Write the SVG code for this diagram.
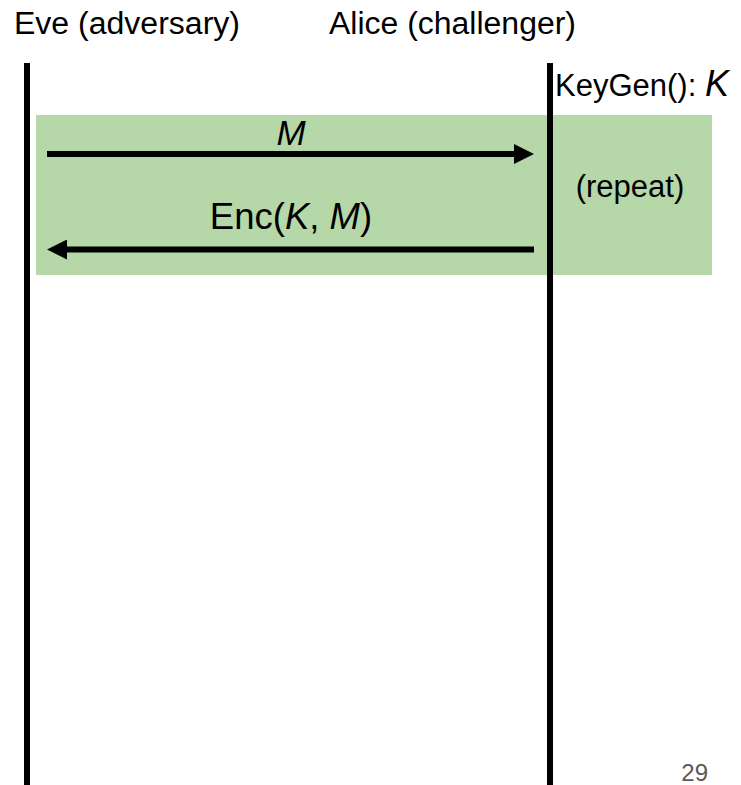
<svg xmlns="http://www.w3.org/2000/svg" width="741" height="785" viewBox="0 0 741 785">
  <style>
    text { font-family: "Liberation Sans", Arial, sans-serif; fill: #000; }
    .lifeline { stroke: #000; stroke-width: 6; }
    .msg { stroke: #000; stroke-width: 6; fill: none; }
    .it { font-style: italic; }
  </style>
  <defs>
    <marker id="head" viewBox="0 0 20 20" refX="10" refY="10" markerWidth="20" markerHeight="20" orient="auto" markerUnits="userSpaceOnUse">
      <path d="M0,0 L20,10 L0,20 Z" fill="#000"/>
    </marker>
  </defs>

  <!-- repeated exchange region -->
  <rect id="repeat-block" x="36" y="115" width="676" height="160" fill="#b6d7a8"/>

  <g id="eve">
    <text x="14" y="34" font-size="31" textLength="226" lengthAdjust="spacingAndGlyphs">Eve (adversary)</text>
    <line class="lifeline" x1="27" y1="63" x2="27" y2="785"/>
  </g>

  <g id="alice">
    <text x="329" y="34" font-size="31" textLength="247" lengthAdjust="spacingAndGlyphs">Alice (challenger)</text>
    <line class="lifeline" x1="550" y1="63" x2="550" y2="785"/>
    <text x="555" y="96" font-size="31">KeyGen(): <tspan class="it" font-size="36">K</tspan></text>
    <text x="630" y="197" font-size="31" text-anchor="middle">(repeat)</text>
  </g>

  <g id="connectors">
    <line class="msg" x1="47" y1="154" x2="524" y2="154" marker-end="url(#head)"/>
    <text class="it" x="291" y="145" font-size="35" text-anchor="middle">M</text>
    <line class="msg" x1="534" y1="249.5" x2="57" y2="249.5" marker-end="url(#head)"/>
    <text x="291" y="229" font-size="36.5" text-anchor="middle">Enc(<tspan class="it">K</tspan>, <tspan class="it">M</tspan>)</text>
  </g>

  <text id="page-number" x="708" y="781" font-size="24" text-anchor="end" style="fill:#595959">29</text>
</svg>
